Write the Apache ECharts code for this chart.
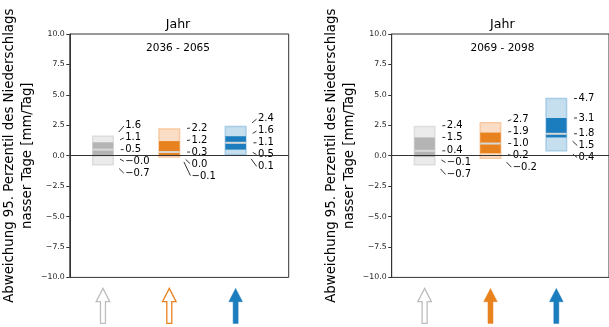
<!DOCTYPE html>
<html>
<head>
<meta charset="utf-8">
<script src="https://cdn.jsdelivr.net/npm/echarts@6/dist/echarts.min.js"></script>
<style>
html,body{margin:0;padding:0;background:#fff;}
#chart{width:609px;height:327px;}
</style>
</head>
<body>
<div id="chart"></div>
<script>
// ---- data ----
const categories = ['grau', 'orange', 'blau'];
const periods = ['2036 - 2065', '2069 - 2098'];
const panelTitle = 'Jahr';
const yAxisTitle = 'Abweichung 95. Perzentil des Niederschlags\nnasser Tage [mm/Tag]';

// left panel (2036 - 2065)
const topL    = [1.6, 2.2, 2.4];
const upperL  = [1.1, 1.2, 1.6];
const medianL = [0.5, 0.3, 1.06];
const lowerL  = [-0.04, 0.0, 0.5];
const bottomL = [-0.74, -0.1, 0.1];
const filledL = [false, false, true];

// right panel (2069 - 2098)
const topR    = [2.4, 2.7, 4.7];
const upperR  = [1.5, 1.9, 3.1];
const medianR = [0.4, 1.0, 1.8];
const lowerR  = [-0.1, 0.2, 1.5];
const bottomR = [-0.74, -0.2, 0.4];
const filledR = [false, true, true];

// ---- styles ----
const FONT = 'DejaVu Sans';
const darkCol  = ['#b4b4b4', '#e8821e', '#1b7dbd'];
const lightCol = ['#ebebeb', '#fbdcc4', '#c5dfef'];
const edgeCol  = ['#dddddd', '#f8c9a2', '#a6cce6'];
const arrowCol = ['#bdbdbd', '#e8821e', '#1b7dbd'];

function fmt(v) { return v.toFixed(1).replace('-', '\u2212'); }

function buildData(t, u, m, l, b, f) {
  return categories.map((c, i) => [i, t[i], u[i], m[i], l[i], b[i], f[i] ? 1 : 0]);
}

function renderItem(params, api) {
  const xi = api.value(0);
  const vals = [1, 2, 3, 4, 5].map(k => api.value(k));
  const filled = api.value(6) === 1;
  const pts = vals.map(v => api.coord([xi, v]));
  const cx = pts[0][0];
  const halfW = api.size([0.31, 0])[0] / 2;
  const ci = params.dataIndex;
  const children = [];
  // outer box
  children.push({type: 'rect', shape: {x: cx - halfW, y: pts[0][1], width: 2 * halfW, height: pts[4][1] - pts[0][1]},
    style: {fill: lightCol[ci], stroke: edgeCol[ci], lineWidth: 1.5}});
  // inner box
  children.push({type: 'rect', shape: {x: cx - halfW, y: pts[1][1], width: 2 * halfW, height: pts[3][1] - pts[1][1]},
    style: {fill: darkCol[ci]}});
  // median
  children.push({type: 'line', shape: {x1: cx - halfW, y1: pts[2][1], x2: cx + halfW, y2: pts[2][1]},
    style: {stroke: '#d8d8d8', lineWidth: 2}});
  // labels spread around median
  const ys = pts.map(p => p[1]);
  const out = ys.slice();
  const gap = 12;
  for (let i = 1; i >= 0; i--) out[i] = Math.min(ys[i], out[i + 1] - gap);
  for (let i = 3; i <= 4; i++) out[i] = Math.max(ys[i], out[i - 1] + gap);
  const textX = cx + halfW + 12;
  for (let i = 0; i < 5; i++) {
    const p0 = [cx + halfW + 2, ys[i]];
    const p1 = [textX - 1, out[i]];
    const dx = p1[0] - p0[0], dy = p1[1] - p0[1];
    const len = Math.sqrt(dx * dx + dy * dy);
    const ux = dx / len, uy = dy / len;
    children.push({type: 'line', shape: {x1: p0[0] + ux * 5.5, y1: p0[1] + uy * 5.5, x2: p1[0] - ux * 0.5, y2: p1[1] - uy * 0.5},
      style: {stroke: '#000', lineWidth: 0.8}});
    children.push({type: 'text', x: textX, y: out[i],
      style: {text: fmt(vals[i]), fill: '#000', font: '10px "' + FONT + '"', textAlign: 'left', textVerticalAlign: 'middle'}});
  }
  // arrow under the axis
  const gb = api.coord([xi, -10])[1];
  const tip = gb + 11, hb = tip + 13.3, bot = tip + 35, hw = 6.8, sw = 2.5;
  const poly = [[cx, tip], [cx + hw, hb], [cx + sw, hb], [cx + sw, bot], [cx - sw, bot], [cx - sw, hb], [cx - hw, hb]];
  children.push({type: 'polygon', shape: {points: poly},
    style: filled ? {fill: arrowCol[ci], stroke: arrowCol[ci], lineWidth: 0.5}
                  : {fill: '#fff', stroke: arrowCol[ci], lineWidth: 1.3}});
  return {type: 'group', children: children};
}

const gridW = 221.4, gridH = 243.4, gridTop = 34;
const gridLefts = [67.3, 391.7];

const chart = echarts.init(document.getElementById('chart'), null, {renderer: 'canvas'});

const grids = gridLefts.map(l => ({left: l, top: gridTop, width: gridW, height: gridH, show: true,
  borderColor: '#333', borderWidth: 1, backgroundColor: 'transparent'}));
const xAxes = gridLefts.map((l, i) => ({type: 'value', gridIndex: i, min: -0.5, max: 2.8, show: false}));
const yAxes = gridLefts.map((l, i) => ({
  type: 'value', gridIndex: i, min: -10, max: 10, interval: 2.5,
  name: yAxisTitle, nameLocation: 'middle', nameRotate: 90, nameGap: 27,
  nameTextStyle: {fontFamily: FONT, fontSize: 13.3, lineHeight: 18, color: '#000'},
  axisLine: {show: true, onZero: false, lineStyle: {color: '#333', width: 1}},
  axisTick: {show: true, inside: false, length: 3.5, lineStyle: {color: '#333'}},
  axisLabel: {fontFamily: FONT, fontSize: 7.8, color: '#222', margin: 5, formatter: v => fmt(v)},
  splitLine: {show: false}
}));

const seriesData = [buildData(topL, upperL, medianL, lowerL, bottomL, filledL),
                    buildData(topR, upperR, medianR, lowerR, bottomR, filledR)];

const series = [];
seriesData.forEach((d, i) => {
  series.push({type: 'custom', xAxisIndex: i, yAxisIndex: i, data: d, renderItem: renderItem, clip: false,
    encode: {x: 0, y: [1, 2, 3, 4, 5]}, silent: true, animation: false, z: 2});
  series.push({type: 'line', xAxisIndex: i, yAxisIndex: i, data: [], z: 10, animation: false,
    markLine: {silent: true, symbol: 'none', label: {show: false}, animation: false,
      lineStyle: {color: '#333', width: 1, type: 'solid'}, data: [{yAxis: 0}]}});
});

const graphics = [];
gridLefts.forEach((l, i) => {
  const cx = l + gridW / 2;
  graphics.push({type: 'text', x: cx, y: 25, style: {text: panelTitle, font: '12.6px "' + FONT + '"', fill: '#000', textAlign: 'center', textVerticalAlign: 'middle'}});
  graphics.push({type: 'text', x: cx, y: 48.5, style: {text: periods[i], font: '10.5px "' + FONT + '"', fill: '#000', textAlign: 'center', textVerticalAlign: 'middle'}});
});

chart.setOption({
  animation: false,
  grid: grids,
  xAxis: xAxes,
  yAxis: yAxes,
  series: series,
  graphic: graphics
});
</script>
</body>
</html>
